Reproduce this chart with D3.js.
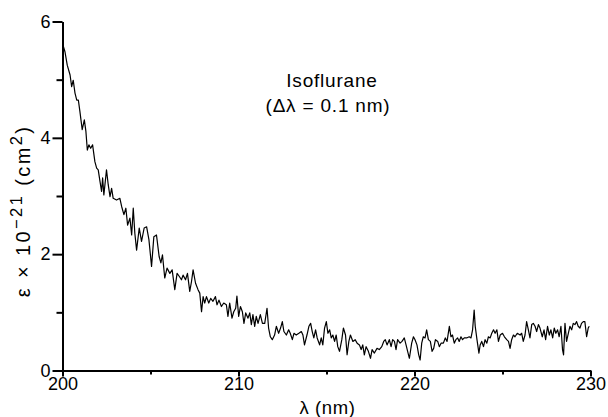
<!DOCTYPE html>
<html>
<head>
<meta charset="utf-8">
<script src="https://cdn.jsdelivr.net/npm/d3@7"></script>
<style>
  body { margin: 0; background: #fff; }
  svg { display: block; font-family: "Liberation Sans", Arial, Helvetica, sans-serif; }
  .axis path, .axis line { stroke: #000; stroke-width: 2; }
  .axis text { font-size: 18px; fill: #000; }
</style>
</head>
<body>
<svg id="chart"></svg>
<script>
// wavelength (nm) and absorption cross section (x 1e-21 cm^2)
const wavelength = [
  200.00, 200.05, 200.14, 200.27, 200.43, 200.52, 200.61, 200.71, 200.81, 200.90,
  200.99, 201.12, 201.24, 201.33, 201.41, 201.50, 201.60, 201.71, 201.84, 201.94,
  202.03, 202.13, 202.22, 202.28, 202.35, 202.50, 202.60, 202.70, 202.79, 202.88,
  203.07, 203.26, 203.36, 203.49, 203.60, 203.70, 203.83, 203.93, 204.02, 204.11,
  204.21, 204.36, 204.49, 204.64, 204.78, 204.91, 205.06, 205.19, 205.34, 205.49,
  205.59, 205.68, 205.81, 205.94, 206.10, 206.23, 206.38, 206.51, 206.63, 206.76,
  206.85, 206.99, 207.10, 207.23, 207.33, 207.42, 207.56, 207.70, 207.80, 207.90,
  207.99, 208.08, 208.18, 208.31, 208.42, 208.55, 208.69, 208.78, 208.89, 209.03,
  209.16, 209.31, 209.40, 209.50, 209.63, 209.73, 209.84, 209.91, 210.01, 210.11,
  210.22, 210.31, 210.41, 210.54, 210.64, 210.73, 210.82, 210.92, 211.01, 211.11,
  211.24, 211.36, 211.49, 211.62, 211.71, 211.81, 211.92, 212.05, 212.15, 212.28,
  212.39, 212.49, 212.58, 212.72, 212.85, 212.94, 213.06, 213.15, 213.28, 213.43,
  213.57, 213.66, 213.75, 213.89, 214.00, 214.10, 214.19, 214.28, 214.38, 214.47,
  214.61, 214.70, 214.79, 214.89, 214.99, 215.08, 215.18, 215.27, 215.36, 215.46,
  215.55, 215.64, 215.74, 215.87, 215.96, 216.08, 216.17, 216.27, 216.36, 216.50,
  216.63, 216.74, 216.87, 216.97, 217.06, 217.15, 217.25, 217.38, 217.50, 217.59,
  217.72, 217.87, 218.00, 218.14, 218.25, 218.34, 218.44, 218.57, 218.67, 218.76,
  218.86, 218.95, 219.04, 219.18, 219.29, 219.42, 219.52, 219.61, 219.71, 219.84,
  219.94, 220.03, 220.14, 220.24, 220.32, 220.41, 220.50, 220.60, 220.69, 220.79,
  220.90, 221.00, 221.09, 221.19, 221.32, 221.41, 221.51, 221.64, 221.75, 221.85,
  221.98, 222.07, 222.16, 222.26, 222.35, 222.45, 222.54, 222.64, 222.73, 222.83,
  222.96, 223.11, 223.21, 223.30, 223.39, 223.45, 223.55, 223.66, 223.73, 223.82,
  223.92, 224.01, 224.11, 224.20, 224.30, 224.39, 224.49, 224.58, 224.68, 224.77,
  224.87, 225.00, 225.11, 225.24, 225.34, 225.43, 225.52, 225.62, 225.71, 225.84,
  226.00, 226.09, 226.18, 226.28, 226.37, 226.47, 226.56, 226.66, 226.75, 226.85,
  226.94, 227.04, 227.13, 227.26, 227.36, 227.45, 227.56, 227.66, 227.75, 227.85,
  227.94, 228.03, 228.13, 228.22, 228.32, 228.41, 228.47, 228.55, 228.64, 228.74,
  228.83, 228.93, 229.02, 229.12, 229.21, 229.30, 229.40, 229.49, 229.59, 229.68,
  229.78, 229.87, 229.93
];
const epsilon = [
  5.62, 5.57, 5.48, 5.25, 5.08, 4.88, 4.99, 4.77, 4.65, 4.65,
  4.45, 4.14, 4.31, 4.11, 3.79, 3.88, 3.82, 3.88, 3.59, 3.48,
  3.45, 3.25, 3.08, 3.31, 3.02, 3.45, 3.19, 2.99, 3.13, 2.96,
  2.93, 2.96, 2.82, 2.68, 2.79, 2.50, 2.62, 2.33, 2.79, 2.36,
  2.07, 2.45, 2.22, 2.45, 2.47, 2.25, 1.79, 2.30, 2.33, 1.96,
  1.85, 1.99, 1.59, 1.76, 1.67, 1.73, 1.39, 1.67, 1.62, 1.56,
  1.64, 1.56, 1.67, 1.36, 1.53, 1.73, 1.50, 1.39, 1.33, 1.01,
  1.27, 1.16, 1.27, 1.16, 1.24, 1.19, 1.27, 1.13, 1.21, 1.10,
  1.16, 1.13, 0.93, 1.16, 0.90, 1.01, 1.07, 1.28, 0.93, 1.10,
  1.01, 0.81, 0.99, 0.90, 0.99, 0.79, 0.96, 0.76, 0.93, 0.81,
  0.96, 0.81, 0.81, 1.07, 0.73, 0.58, 0.53, 0.61, 0.76, 0.64,
  0.73, 0.84, 0.67, 0.61, 0.70, 0.64, 0.53, 0.64, 0.61, 0.64,
  0.67, 0.61, 0.44, 0.61, 0.76, 0.81, 0.67, 0.56, 0.70, 0.56,
  0.44, 0.56, 0.44, 0.73, 0.84, 0.64, 0.70, 0.56, 0.61, 0.50,
  0.61, 0.41, 0.33, 0.53, 0.73, 0.61, 0.27, 0.50, 0.61, 0.50,
  0.53, 0.47, 0.44, 0.36, 0.44, 0.27, 0.41, 0.33, 0.21, 0.36,
  0.30, 0.38, 0.36, 0.41, 0.50, 0.53, 0.44, 0.53, 0.41, 0.53,
  0.50, 0.36, 0.53, 0.47, 0.50, 0.56, 0.44, 0.33, 0.21, 0.47,
  0.58, 0.53, 0.44, 0.27, 0.18, 0.47, 0.58, 0.56, 0.70, 0.53,
  0.50, 0.33, 0.38, 0.53, 0.50, 0.41, 0.47, 0.47, 0.56, 0.50,
  0.76, 0.58, 0.61, 0.47, 0.53, 0.56, 0.50, 0.58, 0.53, 0.56,
  0.56, 0.58, 0.56, 0.70, 1.04, 0.76, 0.53, 0.30, 0.44, 0.50,
  0.41, 0.53, 0.47, 0.58, 0.56, 0.64, 0.70, 0.64, 0.70, 0.50,
  0.61, 0.64, 0.58, 0.53, 0.50, 0.38, 0.53, 0.61, 0.58, 0.64,
  0.61, 0.64, 0.50, 0.61, 0.84, 0.70, 0.56, 0.79, 0.81, 0.76,
  0.67, 0.79, 0.73, 0.58, 0.70, 0.53, 0.76, 0.61, 0.70, 0.56,
  0.73, 0.64, 0.70, 0.58, 0.76, 0.36, 0.27, 0.81, 0.50, 0.64,
  0.76, 0.70, 0.81, 0.79, 0.84, 0.76, 0.73, 0.81, 0.84, 0.84,
  0.58, 0.73, 0.76
];

const xMajor = [200, 210, 220, 230];
const xMinor = [205, 215, 225];
const yMajor = [0, 2, 4, 6];
const yMinor = [1, 3, 5];

const W = 608, H = 417;
const margin = {top: 21.5, right: 17.5, bottom: 46.5, left: 62.5};
const width = W - margin.left - margin.right;
const height = H - margin.top - margin.bottom;

const svg = d3.select('#chart').attr('width', W).attr('height', H);
const g = svg.append('g').attr('transform', `translate(${margin.left},${margin.top})`);

const x = d3.scaleLinear().domain([200, 230]).range([0, width]);
const y = d3.scaleLinear().domain([0, 6]).range([height, 0]);

// minor ticks first, majors drawn over them
g.append('g').attr('class', 'axis')
    .attr('transform', `translate(0,${height})`)
    .call(d3.axisBottom(x).tickValues(xMinor).tickSize(4).tickFormat(''))
    .select('.domain').remove();
g.append('g').attr('class', 'axis')
    .call(d3.axisLeft(y).tickValues(yMinor).tickSize(6).tickFormat(''))
    .select('.domain').remove();

g.append('g').attr('class', 'axis')
    .attr('transform', `translate(0,${height})`)
    .call(d3.axisBottom(x).tickValues(xMajor).tickSize(6).tickSizeOuter(0).tickPadding(1).tickFormat(d3.format('d')));
g.append('g').attr('class', 'axis')
    .call(d3.axisLeft(y).tickValues(yMajor).tickSize(10).tickSizeOuter(0).tickPadding(2).tickFormat(d3.format('d')));

const pts = wavelength.map((w, i) => [w, epsilon[i]]);
const line = d3.line().x(d => x(d[0])).y(d => y(d[1]));

g.append('path')
    .datum(pts)
    .attr('fill', 'none')
    .attr('stroke', '#000')
    .attr('stroke-width', 1.2)
    .attr('stroke-linejoin', 'round')
    .attr('d', line);

// axis titles
svg.append('text')
    .attr('x', margin.left + width / 2 + 1)
    .attr('y', 414)
    .attr('text-anchor', 'middle')
    .style('font-size', '18.5px')
    .style('letter-spacing', '0.6px')
    .text('λ (nm)');

const yl = svg.append('text')
    .attr('transform', 'translate(30,211) rotate(-90)')
    .attr('text-anchor', 'middle')
    .style('font-size', '20px')
    .style('letter-spacing', '2.4px');
yl.append('tspan').text('ε × 10');
yl.append('tspan').attr('dy', -8).style('font-size', '16.5px').text('−21');
yl.append('tspan').attr('dy', 8).text(' (cm');
yl.append('tspan').attr('dy', -8).style('font-size', '16.5px').text('2');
yl.append('tspan').attr('dy', 8).text(')');

// annotation
svg.append('text')
    .attr('x', 332)
    .attr('y', 87)
    .attr('text-anchor', 'middle')
    .style('font-size', '19px')
    .style('letter-spacing', '0.8px')
    .text('Isoflurane');
svg.append('text')
    .attr('x', 328)
    .attr('y', 112)
    .attr('text-anchor', 'middle')
    .style('font-size', '19px')
    .style('letter-spacing', '0.8px')
    .text('(Δλ = 0.1 nm)');
</script>
</body>
</html>
